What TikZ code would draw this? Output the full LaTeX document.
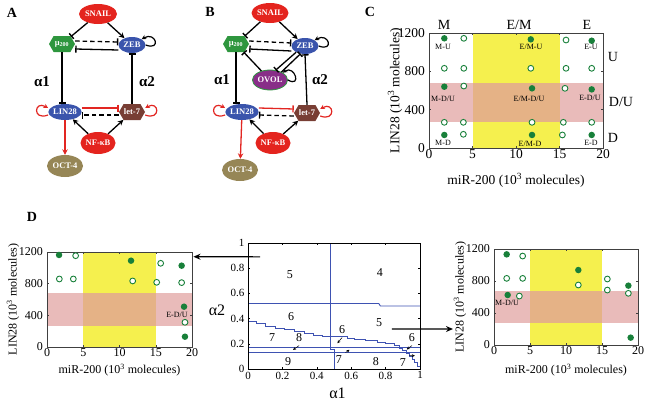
\documentclass[tikz,border=0pt]{standalone}
\usepackage{fontspec}
\setmainfont{Liberation Serif}
\usetikzlibrary{arrows.meta,shapes.geometric,shapes.symbols}

\definecolor{nodered}{RGB}{228,36,30}
\definecolor{nodeblue}{RGB}{58,84,172}
\definecolor{nodegreen}{RGB}{46,150,62}
\definecolor{nodebrown}{RGB}{120,62,52}
\definecolor{nodeolive}{RGB}{150,134,86}
\definecolor{nodepurple}{RGB}{136,46,136}
\definecolor{loopred}{RGB}{226,38,34}
\definecolor{bandyellow}{RGB}{245,240,78}
\definecolor{bandpink}{RGB}{233,187,186}
\definecolor{bandorange}{RGB}{229,178,134}
\definecolor{dotgreen}{RGB}{24,128,58}
\definecolor{lineblue}{RGB}{62,82,178}

\tikzset{
  species/.style={ellipse, text=white, inner sep=0pt, minimum width=30pt, minimum height=16pt,
    font=\bfseries\fontsize{8.5}{9}\selectfont},
  mirna/.style={signal, signal to=east and west, signal pointer angle=120, text=white, inner sep=0pt,
    minimum width=26pt, minimum height=16pt, font=\bfseries\fontsize{8.5}{9}\selectfont},
  act/.style={-{Stealth[length=5.5pt,width=5.5pt]}, line width=1.3pt},
  inh/.style={-{Bar[width=7pt,line width=1.4pt]}, line width=1.3pt},
  dashinh/.style={inh, dash pattern=on 4.5pt off 3pt},
  selfloop/.style={-{Stealth[length=4.5pt,width=4.5pt]}, line width=1.2pt},
  alphalabel/.style={font=\bfseries\fontsize{15}{15}\selectfont},
  panelletter/.style={font=\bfseries\fontsize{14}{14}\selectfont},
  statelabel/.style={font=\fontsize{14}{14}\selectfont},
  dotlabel/.style={font=\fontsize{8}{8}\selectfont, inner sep=0pt},
  fulldot/.style={circle, fill=dotgreen, inner sep=0pt, minimum size=6.5pt},
  hollowdot/.style={circle, draw=dotgreen, fill=white, line width=0.9pt, inner sep=0pt, minimum size=5.8pt},
  frameline/.style={line width=0.5pt, black!75},
  boundary/.style={line width=0.9pt, lineblue},
  ticklabel/.style={font=\fontsize{11}{11}\selectfont, inner sep=1.5pt},
  regionlabel/.style={font=\fontsize{12}{12}\selectfont},
  pointer/.style={-{Stealth[length=3pt,width=3pt]}, line width=0.5pt},
  jumparrow/.style={-{Stealth[length=7pt,width=6pt]}, line width=1.2pt},
}

% scatter frame: #1 font, #2 drop of the x label, #3 name prefix
\newcommand\molframe[3]{%
  \fill[bandyellow] (5,0) rectangle (15,1200);
  \fill[bandpink] (0,270) rectangle (5,680);
  \fill[bandpink] (15,270) rectangle (20,680);
  \fill[bandorange] (5,270) rectangle (15,680);
  \draw[frameline] (0,0) rectangle (20,1200);
  \foreach \t in {5,10,15} {
    \draw[frameline] (\t,0) -- ++(0,2pt);
    \draw[frameline] (\t,1200) -- ++(0,-2pt);
  }
  \foreach \t in {400,800} {
    \draw[frameline] (0,\t) -- ++(2pt,0);
    \draw[frameline] (20,\t) -- ++(-2pt,0);
  }
  \foreach \t in {0,5,10,15,20}
    \node[font=#1, anchor=north, inner sep=1.5pt] (#3x\t) at (\t,0) {\t};
  \foreach \t in {0,400,800,1200}
    \node[font=#1, anchor=east, inner sep=1pt] (#3y\t) at ([xshift=-3pt]0,\t) {\t};
  \node[font=#1, rotate=90] (#3ylab) at ([xshift=-34pt]0,600) {LIN28 (10\textsuperscript{3} molecules)};
  \node[font=#1] (#3xlab) at ([yshift=-#2]10,0) {miR-200 (10\textsuperscript{3} molecules)};
}

\begin{document}
\begin{tikzpicture}[x=1pt,y=1pt]
  %%%%% START %%%%%
  \useasboundingbox (0,0) rectangle (650,-407);

  % panel A
  \node[panelletter] (labA) at (12,-13) {A};
  \node[species, fill=nodered, minimum width=38pt, minimum height=20pt] (snailA) at (98,-14) {SNAIL};
  \node[mirna, fill=nodegreen] (muA) at (62,-44) {μ\textsubscript{200}};
  \node[species, fill=nodeblue, minimum width=27pt] (zebA) at (132,-45) {ZEB};
  \node[species, fill=nodeblue] (linA) at (65,-112) {LIN28};
  \node[mirna, fill=nodebrown] (letA) at (132,-112) {let-7};
  \node[species, fill=nodered, minimum width=35pt, minimum height=22pt] (nfkbA) at (98,-143) {NF-κB};
  \node[species, fill=nodeolive, minimum width=36pt, minimum height=22pt] (octA) at (65,-166) {OCT-4};
  \node[alphalabel] (aoneA) at (42,-82) {α1};
  \node[alphalabel] (atwoA) at (147,-82) {α2};

  \draw[inh] (snailA) -- (muA);
  \draw[act] (snailA) -- (zebA);
  \draw[dashinh] ([yshift=3pt]muA.east) -- ([yshift=3pt]zebA.west);
  \draw[inh] ([yshift=-5pt]zebA.west) -- ([yshift=-5pt]muA.east);
  \draw[inh] (muA.south) -- (muA.south |- linA.north);
  \draw[inh] (letA.north) -- (zebA.south);
  \draw[inh, loopred] ([yshift=4pt]linA.east) -- ([yshift=4pt]letA.west);
  \draw[dashinh] ([yshift=-3pt]letA.west) -- ([yshift=-3pt]linA.east);
  \draw[act] (nfkbA) -- (linA);
  \draw[act] (nfkbA) -- (letA);
  \draw[act, loopred] (linA) -- (octA);
  \draw[selfloop] (zebA.east) .. controls +(16,-6) and +(14,8) .. (zebA.north east);
  \draw[selfloop, loopred] ([yshift=-3pt]linA.west) .. controls +(-16,-6) and +(-14,8) .. ([yshift=4pt]linA.west);
  \draw[selfloop, loopred] ([yshift=-3pt]letA.east) .. controls +(16,-6) and +(14,8) .. ([yshift=4pt]letA.east);

  % panel B
  \node[panelletter] (labB) at (210,-12) {B};
  \node[species, fill=nodered, minimum width=37pt, minimum height=20pt] (snailB) at (270,-13) {SNAIL};
  \node[mirna, fill=nodegreen] (muB) at (236,-44) {μ\textsubscript{200}};
  \node[species, fill=nodeblue, minimum width=27pt] (zebB) at (305,-46) {ZEB};
  \node[species, fill=nodepurple, draw=nodegreen, line width=0.8pt, minimum width=30pt, minimum height=20pt] (ovolB) at (270,-80) {OVOL};
  \node[species, fill=nodeblue] (linB) at (242,-112) {LIN28};
  \node[mirna, fill=nodebrown] (letB) at (307,-113) {let-7};
  \node[species, fill=nodered, minimum width=35pt, minimum height=22pt] (nfkbB) at (273,-143) {NF-κB};
  \node[species, fill=nodeolive, minimum width=36pt, minimum height=22pt] (octB) at (240,-170) {OCT-4};
  \node[alphalabel] (aoneB) at (222,-80) {α1};
  \node[alphalabel] (atwoB) at (320,-80) {α2};

  \draw[inh] (snailB) -- (muB);
  \draw[act] (snailB) -- (zebB);
  \draw[dashinh] ([yshift=3pt]muB.east) -- ([yshift=3pt]zebB.west);
  \draw[inh] ([yshift=-5pt]zebB.west) -- ([yshift=-5pt]muB.east);
  \draw[inh] (ovolB) -- (muB);
  \draw[inh] (ovolB.35) -- (zebB.240);
  \draw[inh] (zebB.215) -- (ovolB.60);
  \draw[inh] (muB.south) -- (muB.south |- linB.north);
  \draw[inh] (letB.north) -- (zebB.south);
  \draw[inh, loopred] ([yshift=4pt]linB.east) -- ([yshift=4pt]letB.west);
  \draw[dashinh] ([yshift=-3pt]letB.west) -- ([yshift=-3pt]linB.east);
  \draw[act] (nfkbB) -- (linB);
  \draw[act] (nfkbB) -- (letB);
  \draw[act, loopred] (linB) -- (octB);
  \draw[selfloop] (zebB.east) .. controls +(16,-6) and +(14,8) .. (zebB.north east);
  \draw[selfloop] (ovolB.east) .. controls +(14,-8) and +(12,8) .. (ovolB.north east);
  \draw[selfloop, loopred] ([yshift=-3pt]linB.west) .. controls +(-16,-6) and +(-14,8) .. ([yshift=4pt]linB.west);
  \draw[selfloop, loopred] ([yshift=-3pt]letB.east) .. controls +(16,-6) and +(14,8) .. ([yshift=4pt]letB.east);

  % panel C
  \node[panelletter] (labC) at (370,-12) {C};
  \node[statelabel] (colM) at (444,-25) {M};
  \node[statelabel] (colEM) at (519,-25) {E/M};
  \node[statelabel] (colE) at (587,-25) {E};
  \node[statelabel] (rowU) at (613,-57) {U};
  \node[statelabel] (rowDU) at (621,-102) {D/U};
  \node[statelabel] (rowD) at (613,-138) {D};
  \begin{scope}[shift={(429,-148)}, x=8.7pt, y=0.0958pt]
    \molframe{\fontsize{13.5}{13.5}\selectfont}{32pt}{c}
    \foreach \px/\py [count=\i] in {1.76/1145, 11.7/1134, 18.7/1120, 1.76/640, 11.84/623, 18.7/612,
        1.76/136, 11.84/136, 18.7/136}
      \node[fulldot] (cf\i) at (\px,\py) {};
    \foreach \px/\py [count=\i] in {4.0/1145, 15.75/1127, 1.76/832, 4.0/832, 11.7/832, 15.75/832,
        18.7/832, 4.0/647, 15.63/623, 1.76/268, 3.95/268, 11.84/268, 15.44/268, 18.7/268,
        3.95/143, 15.33/136}
      \node[hollowdot] (co\i) at (\px,\py) {};
  \end{scope}
  \node[dotlabel] (lMU) at (443,-47) {M-U};
  \node[dotlabel] (lEMU) at (531,-47) {E/M-U};
  \node[dotlabel] (lEU) at (591,-47) {E-U};
  \node[dotlabel] (lMDU) at (443,-99) {M-D/U};
  \node[dotlabel] (lEMDU) at (529,-99) {E/M-D/U};
  \node[dotlabel] (lEDU) at (590,-98) {E-D/U};
  \node[dotlabel] (lMD) at (443,-143) {M-D};
  \node[dotlabel] (lEMD) at (530,-144) {E/M-D};
  \node[dotlabel] (lED) at (591,-143) {E-D};

  % panel D, left
  \node[panelletter] (labD) at (32,-217) {D};
  \begin{scope}[shift={(47,-347)}, x=7.25pt, y=0.0792pt]
    \molframe{\fontsize{12}{12}\selectfont}{23pt}{l}
    \foreach \px/\py [count=\i] in {1.66/1162, 11.59/1090, 18.57/1027, 18.9/509, 19.03/130}
      \node[fulldot] (lf\i) at (\px,\py) {};
    \foreach \px/\py [count=\i] in {3.95/1153, 15.68/1057, 1.7/859, 3.63/859, 11.82/834,
        15.13/817, 18.57/813, 19.03/312}
      \node[hollowdot] (lo\i) at (\px,\py) {};
    \coordinate (leftend) at (20.2,1140);
  \end{scope}
  \node[dotlabel] (lEDUd) at (177,-315) {E-D/U};

  % panel D, right
  \begin{scope}[shift={(494,-345)}, x=7.2pt, y=0.08pt]
    \molframe{\fontsize{12}{12}\selectfont}{25pt}{r}
    \foreach \px/\py [count=\i] in {1.76/1133, 11.71/937, 18.66/742, 1.9/625, 18.98/92}
      \node[fulldot] (rf\i) at (\px,\py) {};
    \foreach \px/\py [count=\i] in {3.98/1112, 11.71/750, 1.76/833, 3.98/833, 15.74/825,
        15.74/687, 18.66/646, 3.52/612}
      \node[hollowdot] (ro\i) at (\px,\py) {};
    \coordinate (rightend) at (-5.7,200);
  \end{scope}
  \node[dotlabel] (lMDUd) at (507,-303) {M-D/U};

  % phase diagram
  \begin{scope}[shift={(248,-369)}, x=172pt, y=126pt]
    \draw[boundary] (0.48,1) -- (0.48,0.155) -- (0.5,0.155) -- (0.5,0);
    \draw[boundary] (0,0.52) -- (0.76,0.52) -- (0.77,0.50) -- (1,0.50);
    \draw[boundary] (0,0.175) -- (1,0.175);
    \draw[boundary] (0,0.135) -- (1,0.135);
    \draw[boundary] (0,0.38) -| (0.05,0.36) -| (0.10,0.335) -| (0.16,0.32) -| (0.21,0.31)
      -| (0.27,0.295) -| (0.33,0.28) -| (0.38,0.27) -| (0.43,0.256) -| (0.58,0.245)
      -| (0.62,0.235) -| (0.68,0.225) -| (0.75,0.212) -| (0.80,0.20) -| (0.85,0.185)
      -| (0.88,0.165) -| (0.90,0.145) -| (0.92,0.125) -| (0.94,0.10) -| (0.955,0.075)
      -| (0.97,0.05) -| (0.985,0.02) -| (1,0);
    \draw[line width=0.7pt] (0,0) rectangle (1,1);
    \foreach \t in {0.2,0.4,0.6,0.8} {
      \draw[line width=0.5pt] (\t,0) -- ++(0,2pt);
      \draw[line width=0.5pt] (\t,1) -- ++(0,-2pt);
      \draw[line width=0.5pt] (0,\t) -- ++(2pt,0);
      \draw[line width=0.5pt] (1,\t) -- ++(-2pt,0);
    }
    \foreach \t [count=\i] in {0,0.2,0.4,0.6,0.8,1}
      \node[ticklabel, anchor=north] (mx\i) at ([yshift=-1pt]\t,0) {\t};
    \foreach \t [count=\i] in {0,0.2,0.4,0.6,0.8,1}
      \node[ticklabel, anchor=east] (my\i) at ([xshift=-2pt]0,\t) {\t};
    \node[font=\fontsize{16}{16}\selectfont] (aonem) at (0.52,-0.19) {α1};

    \node[regionlabel] (rfiveA) at (0.244,0.746) {5};
    \node[regionlabel] (rfour) at (0.767,0.762) {4};
    \node[regionlabel] (rsixA) at (0.25,0.413) {6};
    \node[regionlabel] (rfiveB) at (0.762,0.365) {5};
    \node[regionlabel] (rsevenA) at (0.14,0.246) {7};
    \node[regionlabel] (reightA) at (0.297,0.246) {8};
    \node[regionlabel] (rsixB) at (0.547,0.31) {6};
    \node[regionlabel] (rsixC) at (0.953,0.246) {6};
    \node[regionlabel] (rnine) at (0.233,0.056) {9};
    \node[regionlabel] (rsevenB) at (0.529,0.071) {7};
    \node[regionlabel] (reightB) at (0.744,0.056) {8};
    \node[regionlabel] (rsevenC) at (0.90,0.048) {7};

    \coordinate (tipeightA) at (0.262,0.152);
    \coordinate (tipsixB) at (0.52,0.205);
    \coordinate (tipsevenB) at (0.59,0.152);
    \coordinate (tipsixC) at (0.923,0.155);
    \coordinate (tipsevenC) at (0.97,0.105);
    \draw[pointer] (reightA.south) -- (tipeightA);
    \draw[pointer] (rsixB.south) -- (tipsixB);
    \draw[pointer] (rsevenB.north east) -- (tipsevenB);
    \draw[pointer] (rsixC.south) -- (tipsixC);
    \draw[pointer] (rsevenC.north east) -- (tipsevenC);

    \coordinate (pickup) at (0.07,0.89);
    \coordinate (pickdown) at (0.837,0.317);
  \end{scope}
  \node[font=\fontsize{16}{16}\selectfont] (atwom) at (217,-310) {α2};

  \draw[jumparrow] (pickup) -- (leftend);
  \draw[jumparrow] (pickdown) -- (rightend);

  %%%%% END %%%%%
\end{tikzpicture}
\end{document}
